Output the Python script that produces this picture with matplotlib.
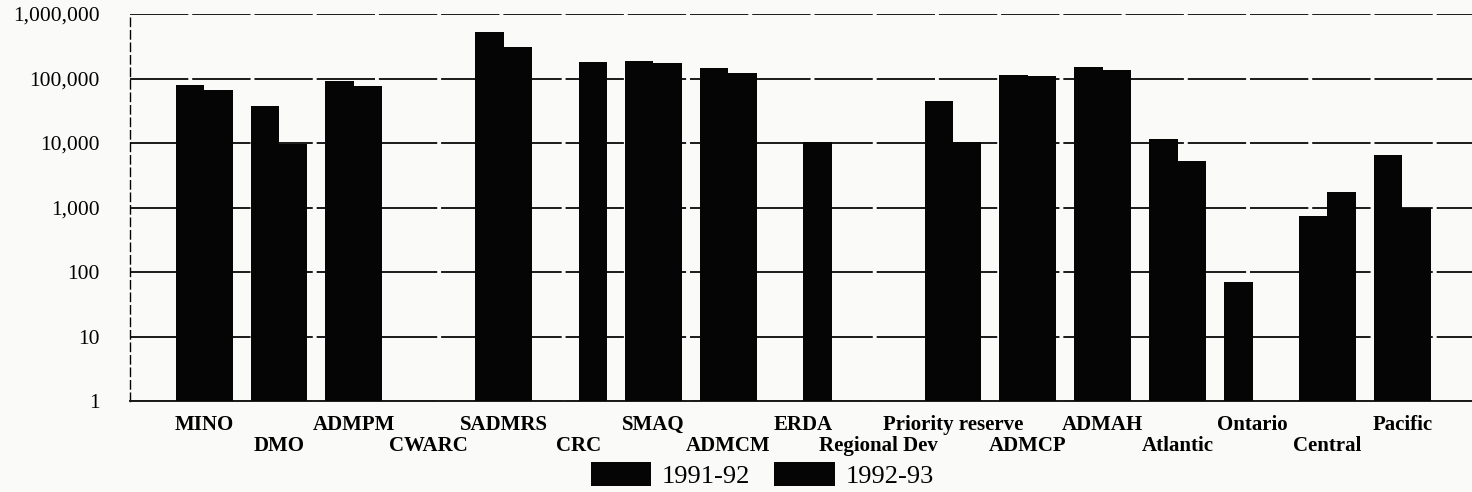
import numpy as np
import matplotlib
matplotlib.use("Agg")
import matplotlib.pyplot as plt
from matplotlib.ticker import FixedLocator, FuncFormatter, NullLocator

categories = ["MINO", "DMO", "ADMPM", "CWARC", "SADMRS", "CRC", "SMAQ", "ADMCM",
              "ERDA", "Regional Dev", "Priority reserve", "ADMCP", "ADMAH",
              "Atlantic", "Ontario", "Central", "Pacific"]
nan = np.nan
values_1991_92 = [78000, 37500, 93000, nan, 534000, nan, 187000, 147000,
                  nan, nan, 45000, 112000, 152000, 11500, 70, 750, 6500]
values_1992_93 = [66000, 9700, 76000, nan, 305000, 180000, 174000, 123000,
                  10300, nan, 10500, 110000, 137000, 5300, nan, 1760, 1000]
series_labels = ["1991-92", "1992-93"]
y_ticks = [1, 10, 100, 1000, 10000, 100000, 1000000]

plt.rcParams['font.family'] = ['Liberation Serif', 'DejaVu Serif']

W, H = 1472, 492
fig = plt.figure(figsize=(W / 100, H / 100), dpi=100)
fig.patch.set_facecolor('#fafaf8')
ax = fig.add_axes([130 / W, 91 / H, 1342 / W, 387 / H])
ax.set_facecolor('#fafaf8')

x = np.arange(len(categories))
bw = 0.38
ax.bar(x - bw / 2, values_1991_92, width=bw, color='#050505', label=series_labels[0], zorder=3)
ax.bar(x + bw / 2, values_1992_93, width=bw, color='#050505', label=series_labels[1], zorder=3)

ax.set_yscale('log')
ax.set_ylim(1, 1000000)
ax.set_xlim(-0.99, 16.93)
ax.yaxis.set_major_locator(FixedLocator(y_ticks))
ax.yaxis.set_minor_locator(NullLocator())
ax.yaxis.set_major_formatter(FuncFormatter(lambda v, p: f"{int(round(v)):,}"))
ax.tick_params(axis='y', length=0, pad=22, labelsize=15.5)
ax.yaxis.grid(True, color='#1a1a1a', linewidth=1.4, linestyle=(0, (30, 2)))
ax.set_axisbelow(True)

ax.set_xticks(x)
ax.set_xticklabels(categories, fontweight='bold', fontsize=15)
ax.tick_params(axis='x', length=0)
for i, t in enumerate(ax.xaxis.get_major_ticks()):
    t.set_pad(10 if i % 2 == 0 else 25)

for s in ['top', 'right']:
    ax.spines[s].set_visible(False)
ax.spines['left'].set_linestyle((0, (6, 3)))
ax.spines['left'].set_linewidth(1.0)
ax.spines['bottom'].set_linewidth(1.4)
ax.spines['bottom'].set_color('#1a1a1a')

fig.legend(loc='center', bbox_to_anchor=(762 / W, 1 - 475 / H), ncol=2, frameon=False,
           fontsize=19, handlelength=2.3, handleheight=1.0, handletextpad=0.4,
           columnspacing=0.9)

fig.savefig('out.png', dpi=100, facecolor=fig.get_facecolor())
